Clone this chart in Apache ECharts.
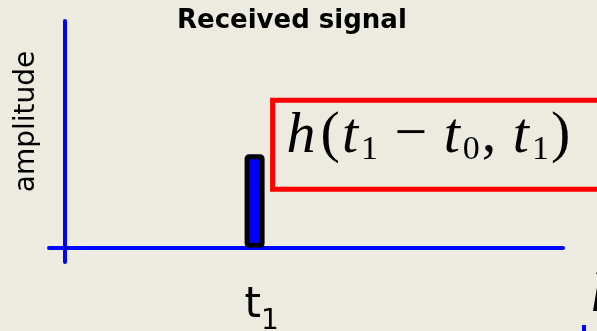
<!DOCTYPE html>
<html>
<head>
<meta charset="utf-8">
<script src="https://cdn.jsdelivr.net/npm/echarts@6/dist/echarts.min.js"></script>
<style>
html, body { margin: 0; padding: 0; background: #edeae0; }
#main { width: 597px; height: 331px; }
</style>
</head>
<body>
<div id="main"></div>
<script>
// axis extents (both axes run a little past the origin)
const xRange = [-1, 32]
const yRange = [-1, 16]
// the single received pulse
const pulseTimes = [12.2]
const pulseAmps = [6.6]
const timeLabels = ['t|1'] // main|subscript

const chart = echarts.init(document.getElementById('main'))

const option = {
  animation: false,
  backgroundColor: '#edeae0',
  title: {
    text: 'Received signal',
    left: 172,
    top: 3,
    textStyle: {
      fontFamily: 'DejaVu Sans',
      fontWeight: 'bold',
      fontSize: 26,
      color: '#000'
    }
  },
  grid: {
    left: 49,
    right: 34,
    top: 21,
    bottom: 69,
    containLabel: false,
    outerBoundsMode: 'none'
  },
  xAxis: {
    type: 'value',
    min: xRange[0],
    max: xRange[1],
    splitLine: { show: false },
    axisTick: { show: false },
    axisLine: {
      show: true,
      onZero: true,
      lineStyle: { color: '#0000ff', width: 4 }
    },
    axisLabel: {
      customValues: pulseTimes,
      margin: 14,
      padding: [0, 0, 0, 14],
      formatter: function (v) {
        const i = pulseTimes.indexOf(v)
        const parts = (timeLabels[i] || '').split('|')
        return '{t|' + parts[0] + '}{s|' + parts[1] + '}'
      },
      rich: {
        t: { fontFamily: 'DejaVu Sans', fontSize: 42, color: '#000', lineHeight: 60 },
        s: { fontFamily: 'DejaVu Sans', fontSize: 28, color: '#000', lineHeight: 4, verticalAlign: 'bottom' }
      }
    }
  },
  yAxis: {
    type: 'value',
    min: yRange[0],
    max: yRange[1],
    name: 'amplitude',
    nameLocation: 'middle',
    nameRotate: 90,
    nameGap: 8,
    nameTextStyle: {
      fontFamily: 'DejaVu Sans',
      fontSize: 28,
      color: '#000',
      padding: [0, 0, 0, 40]
    },
    splitLine: { show: false },
    axisTick: { show: false },
    axisLabel: { show: false },
    axisLine: {
      show: true,
      onZero: true,
      lineStyle: { color: '#0000ff', width: 4 }
    }
  },
  series: [
    {
      type: 'bar',
      barWidth: 20,
      data: pulseTimes.map((t, i) => [t, pulseAmps[i]]),
      itemStyle: {
        color: '#0000ff',
        borderColor: '#000',
        borderWidth: 5,
        borderRadius: 2
      },
      label: {
        show: true,
        position: [28, -54],
        align: 'left',
        verticalAlign: 'top',
        borderColor: '#ff0000',
        borderWidth: 5,
        padding: [5, 40, 22, 14],
        formatter: '{i|h}{n|(}{i|t}{s|1}{n| \u2212 }{i|t}{s|0}{n|, }{i|t}{s|1}{n|)}',
        rich: {
          i: { fontFamily: 'Liberation Serif', fontStyle: 'italic', fontSize: 58, lineHeight: 62, color: '#000', padding: [0, 3, 0, 0] },
          n: { fontFamily: 'Liberation Serif', fontSize: 58, lineHeight: 62, color: '#000', padding: [0, 2, 0, 2] },
          s: { fontFamily: 'Liberation Serif', fontSize: 34, lineHeight: 28, verticalAlign: 'bottom', color: '#000' }
        }
      }
    }
  ],
  graphic: [
    {
      type: 'text',
      left: 591,
      top: 270,
      style: { text: 'h', font: 'italic 54px "Liberation Serif"', fill: '#000' }
    },
    {
      type: 'rect',
      shape: { x: 582, y: 325, width: 4, height: 8 },
      style: { fill: '#0000ff' }
    }
  ]
}

chart.setOption(option)
</script>
</body>
</html>
